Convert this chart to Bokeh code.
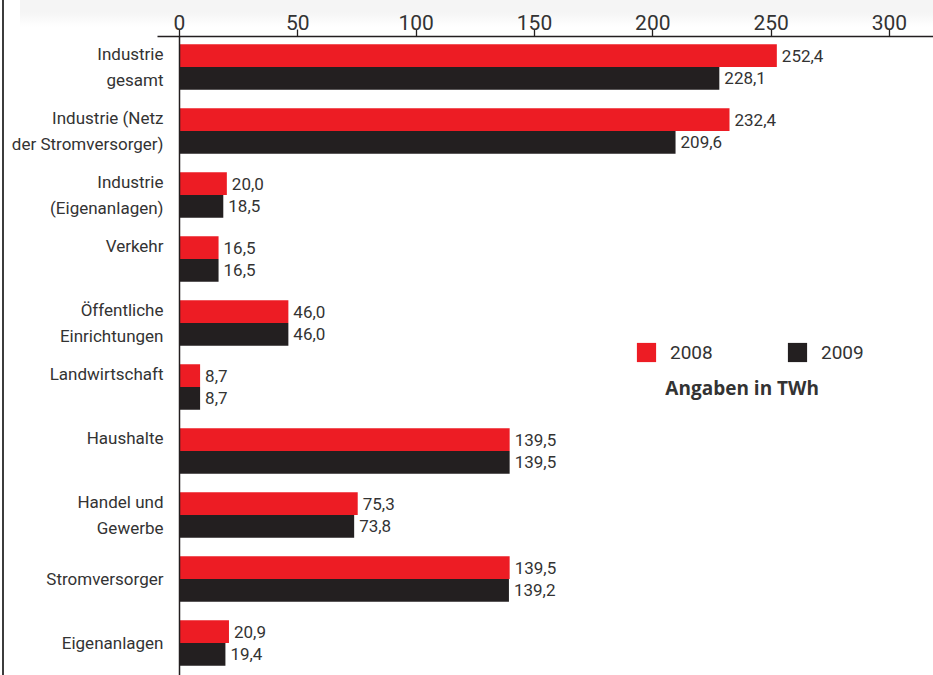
import numpy as np
from bokeh.plotting import figure
from bokeh.models import (Range1d, FixedTicker, Span, Legend, LegendItem, Label,
                          ColumnDataSource)
from bokeh.core.properties import value
from bokeh.embed import file_html
from bokeh.resources import INLINE

# ---- data -------------------------------------------------------------
categories = [
    "Industrie\ngesamt",
    "Industrie (Netz\nder Stromversorger)",
    "Industrie\n(Eigenanlagen)",
    "Verkehr\n",
    "Öffentliche\nEinrichtungen",
    "Landwirtschaft\n",
    "Haushalte\n",
    "Handel und\nGewerbe",
    "Stromversorger",
    "Eigenanlagen",
]
values_2008 = [252.4, 232.4, 20.0, 16.5, 46.0, 8.7, 139.5, 75.3, 139.5, 20.9]
values_2009 = [228.1, 209.6, 18.5, 16.5, 46.0, 8.7, 139.5, 73.8, 139.2, 19.4]
series_names = ["2008", "2009"]
x_ticks = [0, 50, 100, 150, 200, 250, 300]
unit_note = "Angaben in TWh"

# ---- style ------------------------------------------------------------
FONT = "Roboto"
RED = "#ED1C24"
BLACK = "#231F20"
TXT = "#333333"

def fmt(v):
    return f"{v:.1f}".replace(".", ",")

n = len(categories)
idx = np.arange(n)
bar_h = 0.355
off = bar_h / 2

src = ColumnDataSource(dict(
    y08=idx - off, y09=idx + off,
    v08=values_2008, v09=values_2009,
    l08=[fmt(v) for v in values_2008], l09=[fmt(v) for v in values_2009],
))

p = figure(width=933, height=675, output_backend="svg", toolbar_location=None,
           x_range=Range1d(-9.30, 318.6), y_range=Range1d(9.508, -0.4766),
           x_axis_location="above",
           min_border_left=157, min_border_right=0, min_border_top=36, min_border_bottom=0)
p.outline_line_color = None
p.grid.visible = False
p.background_fill_color = "white"
p.border_fill_alpha = 0
# page decoration painted behind the (transparent) border area:
# a thin dark rule at the left edge and a faint grey band at the top
p.styles = {
    "background":
        "linear-gradient(#3c3c3c, #3c3c3c) no-repeat 2px 0 / 2px 100%, "
        "linear-gradient(to bottom, #f5f5f5 0px, #f5f5f5 12px, #ffffff 27px) "
        "no-repeat 20px 0 / 913px 27px, #ffffff",
}

# top axis
xa = p.xaxis[0]
xa.ticker = FixedTicker(ticks=x_ticks)
xa.minor_tick_line_color = None
xa.major_tick_in = 0
xa.major_tick_out = 7
xa.major_tick_line_color = BLACK
xa.major_tick_line_width = 1.3
xa.axis_line_color = BLACK
xa.axis_line_width = 1.5
xa.major_label_standoff = 0
xa.major_label_text_font = FONT
xa.major_label_text_font_size = "21px"
xa.major_label_text_color = TXT

# left category axis
ya = p.yaxis[0]
ya.ticker = FixedTicker(ticks=list(idx))
ya.major_label_overrides = {int(i): c for i, c in zip(idx, categories)}
ya.axis_line_color = None
ya.major_tick_line_color = None
ya.minor_tick_line_color = None
ya.major_tick_out = 0
ya.major_tick_in = 0
ya.major_label_standoff = -6
ya.major_label_text_font = FONT
ya.major_label_text_font_size = "17px"
ya.major_label_text_color = TXT
ya.major_label_text_line_height = 1.3

# bars
r08 = p.hbar(y="y08", left=0, right="v08", height=bar_h, fill_color=RED,
             line_color=None, source=src)
r09 = p.hbar(y="y09", left=0, right="v09", height=bar_h, fill_color=BLACK,
             line_color=None, source=src)

for vcol, ycol, lcol in (("v08", "y08", "l08"), ("v09", "y09", "l09")):
    p.text(x=vcol, y=ycol, text=lcol, source=src, x_offset=5,
           text_baseline="middle", text_align="left",
           text_font=value(FONT), text_font_size="17px", text_color=TXT)

# zero line
p.add_layout(Span(location=0, dimension="height", line_color=BLACK, line_width=1.5))

# legend
legend = Legend(items=[LegendItem(label=series_names[0], renderers=[r08]),
                       LegendItem(label=series_names[1], renderers=[r09])],
                location=(477, 311), orientation="horizontal",
                glyph_width=24, glyph_height=24, label_standoff=12, label_width=115,
                spacing=0, padding=0, margin=0, border_line_color=None,
                background_fill_alpha=0,
                label_text_font=FONT, label_text_font_size="19px",
                label_text_color=TXT)
p.add_layout(legend)

p.add_layout(Label(x=205.3, y=5.02, text=unit_note, text_baseline="middle",
                   text_font="Open Sans", text_font_style="bold",
                   text_font_size="19px", text_color=TXT))

open("out.html", "w").write(file_html(p, INLINE))
